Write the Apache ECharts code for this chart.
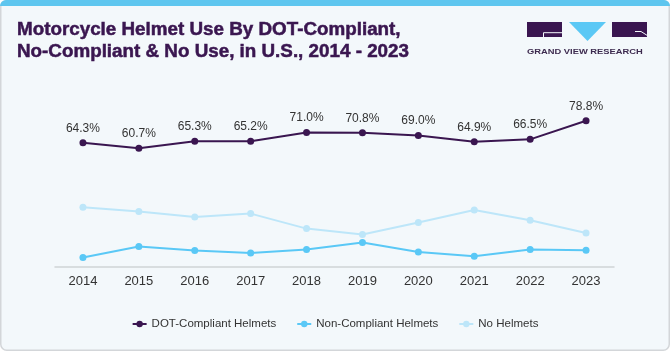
<!DOCTYPE html>
<html>
<head>
<meta charset="utf-8">
<script src="https://cdn.jsdelivr.net/npm/echarts@6/dist/echarts.min.js"></script>
<style>
html,body{margin:0;padding:0;background:#ffffff;}
#chart{width:670px;height:351px;}
</style>
</head>
<body>
<div id="chart"></div>
<script>
var years = ['2014','2015','2016','2017','2018','2019','2020','2021','2022','2023'];
var dotCompliant = [64.3, 60.7, 65.3, 65.2, 71.0, 70.8, 69.0, 64.9, 66.5, 78.8];
var nonCompliant = [4.7, 10.2, 8.2, 7.0, 8.7, 12.2, 7.5, 5.4, 8.7, 8.4];
var noHelmets = [29.9, 27.7, 25.0, 26.7, 19.2, 16.2, 22.2, 28.5, 23.4, 17.0];
var seriesNames = ['DOT-Compliant Helmets', 'Non-Compliant Helmets', 'No Helmets'];
var titleLines = ['Motorcycle Helmet Use By DOT-Compliant,', 'No-Compliant & No Use, in U.S., 2014 - 2023'];
var logoText = 'GRAND VIEW RESEARCH';

var FONT = '"Liberation Sans", Arial, sans-serif';
var PURPLE = '#3a1650';
var chart = echarts.init(document.getElementById('chart'), null, {renderer:'canvas'});

var option = {
  animation: false,
  backgroundColor: 'transparent',
  textStyle: {fontFamily: FONT},
  graphic: [
    {type:'rect', z:-10, shape:{x:0.75, y:0.75, width:668.5, height:349.5, r:6}, style:{fill:'#f3f8fb', stroke:'#d3d6d9', lineWidth:1.5}},
    {type:'rect', z:-9, shape:{x:0, y:0, width:670, height:6, r:[6,6,0,0]}, style:{fill:'#5ec6ef'}},
    {type:'text', x:17, y:30.5, scaleX:1.045, style:{text:titleLines[0], font:'bold 18px ' + FONT, fill:PURPLE, stroke:PURPLE, lineWidth:0.5, verticalAlign:'middle', align:'left'}},
    {type:'text', x:17, y:52, scaleX:1.045, style:{text:titleLines[1], font:'bold 18px ' + FONT, fill:PURPLE, stroke:PURPLE, lineWidth:0.5, verticalAlign:'middle', align:'left'}},
    {type:'rect', shape:{x:527, y:22, width:35, height:15}, style:{fill:PURPLE}},
    {type:'polyline', shape:{points:[[543.5,37],[543.5,32.7],[562,32.7]]}, style:{stroke:'#f3f8fb', lineWidth:1, fill:null}},
    {type:'polygon', shape:{points:[[569,22],[606,22],[587.5,41]]}, style:{fill:'#5bc8f5'}},
    {type:'rect', shape:{x:612, y:22, width:35, height:15}, style:{fill:PURPLE}},
    {type:'polyline', shape:{points:[[635,31.5],[641,31.5],[647,35.3]]}, style:{stroke:'#f3f8fb', lineWidth:1, fill:null}},
    {type:'text', x:527, y:52.5, scaleX:1.3, style:{text:logoText, font:'bold 7.2px ' + FONT, fill:'#3d2b4f', verticalAlign:'middle', align:'left'}}
  ],
  legend: {
    data: seriesNames,
    left: 'center',
    top: 313,
    itemWidth: 14,
    itemHeight: 8,
    itemGap: 20,
    textStyle: {fontSize: 11.5, color: '#333', fontFamily: FONT}
  },
  grid: {left: 55, right: 56, top: 100, bottom: 84, containLabel: false},
  xAxis: {
    type: 'category',
    data: years,
    boundaryGap: true,
    axisLine: {onZero: false, lineStyle: {color: '#d0d3d6', width: 1.5}},
    axisTick: {show: false},
    axisLabel: {color: '#333', fontSize: 13, margin: 8, fontFamily: FONT},
    splitLine: {show: false}
  },
  yAxis: [
    {type:'value', min:-17.8, max:92.5, show:false, splitLine:{show:false}},
    {type:'value', min:0, max:83.5, show:false, splitLine:{show:false}}
  ],
  series: [
    {
      name: seriesNames[0], type: 'line', yAxisIndex: 0, data: dotCompliant,
      symbol: 'circle', symbolSize: 7,
      itemStyle: {color: PURPLE}, lineStyle: {color: PURPLE, width: 2},
      label: {show: true, position: 'top', distance: 5, color: '#333', fontSize: 12, fontFamily: FONT,
        formatter: function(p){ return p.value.toFixed(1) + '%'; }}
    },
    {
      name: seriesNames[1], type: 'line', yAxisIndex: 1, data: nonCompliant,
      symbol: 'circle', symbolSize: 7,
      itemStyle: {color: '#5ac8f6'}, lineStyle: {color: '#5ac8f6', width: 2}
    },
    {
      name: seriesNames[2], type: 'line', yAxisIndex: 1, data: noHelmets,
      symbol: 'circle', symbolSize: 7,
      itemStyle: {color: '#bde6f9'}, lineStyle: {color: '#bde6f9', width: 2}
    }
  ]
};
chart.setOption(option);
</script>
</body>
</html>
